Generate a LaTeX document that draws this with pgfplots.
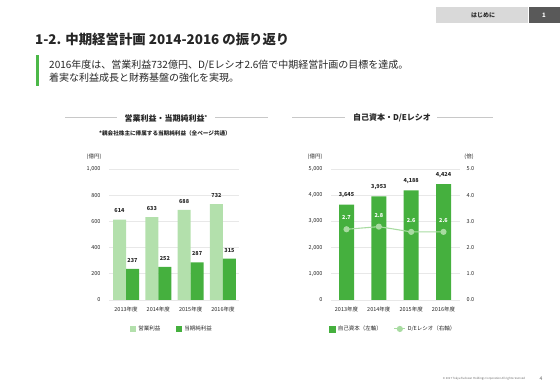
\documentclass[border=0pt]{standalone}
\usepackage{pgfplots}
\pgfplotsset{compat=1.18}
\usepackage{fontspec}
\setmainfont{Noto Sans CJK JP}
\definecolor{lg}{HTML}{B3E0AC}
\definecolor{dg}{HTML}{45B03E}
\definecolor{lineg}{HTML}{A8DBA1}
\definecolor{gridc}{HTML}{E8E8E8}
\definecolor{txt}{HTML}{262626}
\definecolor{hdr}{HTML}{D9D9D9}
\definecolor{hdrd}{HTML}{595959}
\definecolor{ttl}{HTML}{C8C8C8}
\definecolor{barg}{HTML}{4CB848}
\newcommand{\fs}[1]{\fontsize{#1}{#1}\selectfont}
\pgfplotsset{
  common/.style={
    anchor=south west, scale only axis, height=131pt,
    axis line style={draw=none}, major tick length=0pt,
    tick label style={font=\fs{5.5}, text=txt},
    /pgf/number format/assume math mode=true,
    /pgf/number format/1000 sep={,},
    clip=false,
  },
  sqlegend/.style={legend image code/.code={\fill[##1] (0pt,-3pt) rectangle (6pt,3pt);}},
  dgsq/.style={legend image code/.code={\fill[dg] (0pt,-3pt) rectangle (6pt,3pt);}},
  lineleg/.style={legend image code/.code={\draw[mark repeat=2,mark phase=2,##1] plot coordinates {(0pt,0pt) (5.5pt,0pt) (11pt,0pt)};}},
}
\begin{document}
\begin{tikzpicture}[x=1pt,y=1pt]
\path (0pt,0pt) rectangle (560pt,388pt);
% header
\fill[hdr] (436,388-7) rectangle (528,388-23);
\fill[hdrd] (529,388-7) rectangle (560,388-23);
\node[text=txt,font=\fs{6}\bfseries] at (483,388-15) {はじめに};
\node[white,font=\fs{6}\bfseries] at (544,388-15) {1};
% title
\node[anchor=west, text=txt, font=\fs{13.4}\bfseries, inner sep=0pt] at (35,388-39) {1-2. 中期経営計画 2014-2016 の振り返り};
\fill[barg] (36,388-55) rectangle (38.8,388-86);
\node[anchor=west, text=txt, font=\fs{10}, inner sep=0pt] at (49,388-65) {2016年度は、営業利益732億円、D/Eレシオ2.6倍で中期経営計画の目標を達成。};
\node[anchor=west, text=txt, font=\fs{10}, inner sep=0pt] at (49,388-78) {着実な利益成長と財務基盤の強化を実現。};
% chart titles
\draw[ttl, line width=1pt] (65,388-118) -- (117,388-118) (215,388-118) -- (268,388-118);
\node[text=txt, font=\fs{8}\bfseries] at (166,388-118) {営業利益・当期純利益\raisebox{2pt}{\fs{5}*}};
\node[text=txt, font=\fs{5.6}\bfseries] at (165,388-133) {*親会社株主に帰属する当期純利益（全ページ共通）};
\draw[ttl, line width=1pt] (292,388-118) -- (345,388-118) (437,388-118) -- (493,388-118);
\node[text=txt, font=\fs{8}\bfseries] at (392,388-118) {自己資本・D/Eレシオ};
% unit labels
\node[text=txt, font=\fs{5.5}] at (94,388-157) {(億円)};
\node[text=txt, font=\fs{5.5}] at (315,388-157) {(億円)};
\node[text=txt, font=\fs{5.5}] at (469,388-157) {(倍)};
% left chart
\begin{axis}[common, at={(109pt,88pt)}, width=130pt,
  xmin=-0.526, xmax=3.495, ymin=0, ymax=1000,
  ybar=0pt, bar width=13pt,
  xtick={0,1,2,3}, xticklabels={2013年度,2014年度,2015年度,2016年度},
  ytick={0,200,...,1000},
  ymajorgrids, grid style={gridc, line width=0.6pt},
  yticklabel style={xshift=-5pt},
  xticklabel style={yshift=-3pt},
  nodes near coords,
  every node near coord/.append style={font=\fs{5.5}\bfseries, text=txt, yshift=3pt},
  sqlegend,
  legend style={at={(0.485,-0.221)}, anchor=center, draw=none, fill=none,
    legend columns=2, font=\fs{5.5}, text=txt,
    /tikz/every even column/.append style={column sep=14pt}},
]
\addplot[fill=lg, draw=none] coordinates {(0,614) (1,633) (2,688) (3,732)};
\addplot[fill=dg, draw=none] coordinates {(0,237) (1,252) (2,287) (3,315)};
\legend{営業利益,当期純利益}
\end{axis}
% right chart: equity
\begin{axis}[common, at={(331pt,88pt)}, width=129pt,
  xmin=-0.48, xmax=3.51, ymin=0, ymax=5000,
  ybar, bar width=15pt,
  xtick={0,1,2,3}, xticklabels={2013年度,2014年度,2015年度,2016年度},
  ytick={0,1000,...,5000},
  ymajorgrids, grid style={gridc, line width=0.6pt},
  yticklabel style={xshift=-5pt},
  xticklabel style={yshift=-3pt},
  nodes near coords,
  every node near coord/.append style={font=\fs{5.5}\bfseries, text=txt, yshift=3pt},
]
\addplot[fill=dg, draw=none] coordinates {(0,3645) (1,3953) (2,4188) (3,4424)};
\end{axis}
% right chart: D/E ratio
\begin{axis}[common, at={(331pt,88pt)}, width=129pt,
  xmin=-0.48, xmax=3.51, ymin=0, ymax=5,
  hide x axis, axis y line*=right,
  ytick={0,1,...,5},
  /pgf/number format/.cd, fixed, fixed zerofill, precision=1, /pgfplots/.cd,
  yticklabel style={xshift=3pt},
  legend style={at={(0.484,-0.221)}, anchor=center, draw=none, fill=none,
    legend columns=2, font=\fs{5.5}, text=txt,
    /tikz/every even column/.append style={column sep=10pt}},
]
\addlegendimage{dgsq}
\addplot[lineg, line width=1.1pt, mark=*, mark size=2.5pt, mark options={fill=lineg, draw=lineg},
  nodes near coords,
  every node near coord/.append style={font=\fs{5.5}\bfseries, text=white, yshift=5.5pt},
  lineleg]
  coordinates {(0,2.7) (1,2.8) (2,2.6) (3,2.6)};
\legend{自己資本（左軸）,D/Eレシオ（右軸）}
\end{axis}
% footer
\node[text=txt!70, font=\fs{2.8}] at (484,388-379) {© 2017 Tokyu Fudosan Holdings Corporation All rights reserved};
\node[text=txt!70, font=\fs{5}] at (541,388-379) {4};
\end{tikzpicture}
\end{document}
